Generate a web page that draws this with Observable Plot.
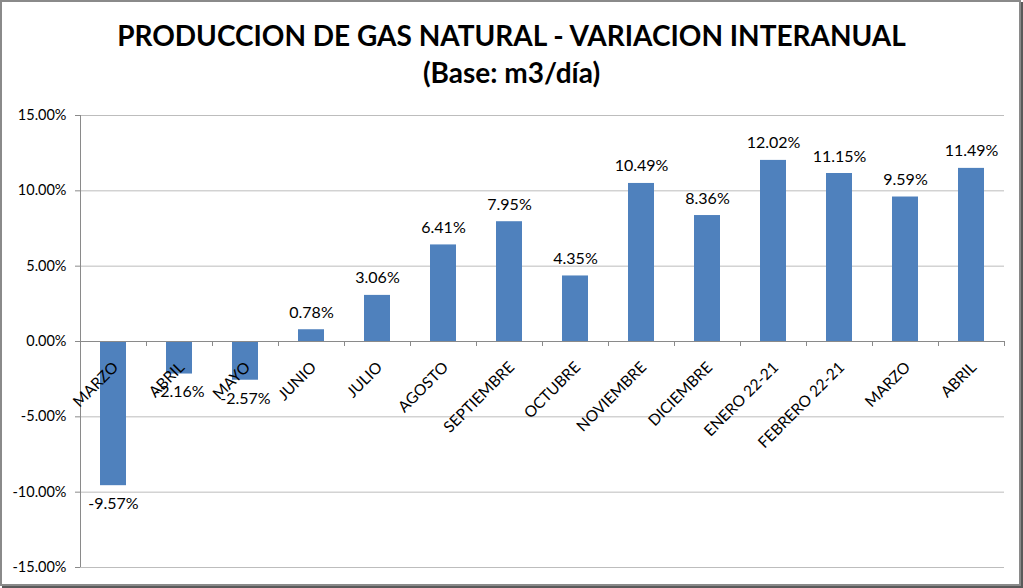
<!DOCTYPE html>
<html>
<head>
<meta charset="utf-8">
<script src="https://cdn.jsdelivr.net/npm/d3@7"></script>
<script src="https://cdn.jsdelivr.net/npm/@observablehq/plot@0.6"></script>
<style>
  html, body { margin: 0; padding: 0; background: #fff; }
  #frame { position: absolute; left: 0; top: 0; width: 1017px; height: 582px; border: 2px solid #8a8a8a; box-shadow: 2px 2px 0 #5a5a5a; background: #fff; }
  #title { position: absolute; left: 0; top: 0; width: 1023px; text-align: center; font-family: Lato, "Open Sans", sans-serif; font-weight: bold; font-size: 28px; line-height: 37px; color: #000; padding-top: 17px; }
  #chart { position: absolute; left: 0; top: 100px; }
</style>
</head>
<body>
<div id="frame"></div>
<div id="title">PRODUCCION DE GAS NATURAL - VARIACION INTERANUAL<br>(Base: m3/día)</div>
<div id="chart"></div>
<script>
const categories = ["MARZO", "ABRIL", "MAYO", "JUNIO", "JULIO", "AGOSTO", "SEPTIEMBRE", "OCTUBRE", "NOVIEMBRE", "DICIEMBRE", "ENERO 22-21", "FEBRERO 22-21", "MARZO", "ABRIL"];
const values = [-9.57, -2.16, -2.57, 0.78, 3.06, 6.41, 7.95, 4.35, 10.49, 8.36, 12.02, 11.15, 9.59, 11.49];
const yTicks = [-15, -10, -5, 0, 5, 10, 15];

const data = categories.map((c, i) => ({ i, c, v: values[i] }));
const bounds = d3.range(categories.length + 1);
const pct = d => d.toFixed(2) + "%";

const chart = Plot.plot({
  width: 1023,
  height: 480,
  marginLeft: 80,
  marginRight: 19,
  marginTop: 15,
  marginBottom: 13,
  style: { fontFamily: "Lato, 'Open Sans', sans-serif", fontSize: "14px", background: "transparent", color: "#000" },
  x: { domain: [0, categories.length], axis: null },
  y: { domain: [-15, 15], axis: null },
  marks: [
    Plot.gridY(yTicks, { stroke: "#bdbdbd", strokeOpacity: 1 }),
    Plot.rectY(data, { x1: "i", x2: d => d.i + 1, y1: 0, y2: "v", insetLeft: 20, insetRight: 20, fill: "#4F81BD" }),
    Plot.ruleY([0], { stroke: "#8a8a8a" }),
    Plot.ruleX([0], { stroke: "#8a8a8a" }),
    Plot.ruleX(bounds, { x: d => d, y1: 0, y2: 0, insetBottom: -5, stroke: "#8a8a8a" }),
    Plot.axisY({ ticks: yTicks, tickFormat: pct, tickSize: 5, tickPadding: 9, stroke: "#8a8a8a", fontSize: 14.5, label: null }),
    Plot.text(data, { filter: d => d.v >= 0, x: d => d.i + 0.5, y: "v", text: d => pct(d.v), lineAnchor: "bottom", dy: -12, fontSize: 16, fill: "#000" }),
    Plot.text(data, { filter: d => d.v < 0, x: d => d.i + 0.5, y: "v", text: d => pct(d.v), lineAnchor: "top", dy: 12, fontSize: 16, fill: "#000" }),
    Plot.text(data, { x: d => d.i + 0.5, y: 0, text: "c", rotate: -45, textAnchor: "end", lineAnchor: "top", dx: -2, dy: 19, fontSize: 15.5, fill: "#000" })
  ]
});
document.getElementById("chart").appendChild(chart);
</script>
</body>
</html>
